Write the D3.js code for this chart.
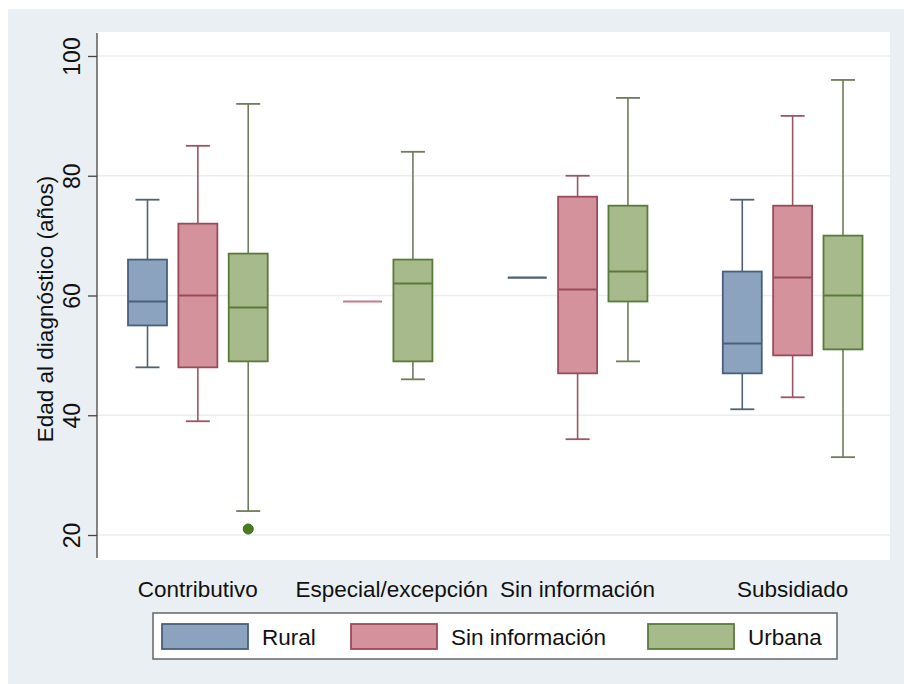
<!DOCTYPE html>
<html>
<head>
<meta charset="utf-8">
<script src="https://cdn.jsdelivr.net/npm/d3@7"></script>
<style>
  body { margin: 0; background: #fff; }
  svg text { font-family: "Liberation Sans", Arial, Helvetica, sans-serif; fill: #111; }
</style>
</head>
<body>
<div id="chart"></div>
<script>
// Categories and series
const groups = ["Contributivo", "Especial/excepción", "Sin información", "Subsidiado"];
const seriesNames = ["Rural", "Sin información", "Urbana"];

// Five-number summaries per group: [lower whisker, q1, median, q3, upper whisker]
const rural = [
  [48, 55, 59, 66, 76],
  null,
  [63, 63, 63, 63, 63],
  [41, 47, 52, 64, 76]
];
const sinInfo = [
  [39, 48, 60, 72, 85],
  [59, 59, 59, 59, 59],
  [36, 47, 61, 76.5, 80],
  [43, 50, 63, 75, 90]
];
const urbana = [
  [24, 49, 58, 67, 92],
  [46, 49, 62, 66, 84],
  [49, 59, 64, 75, 93],
  [33, 51, 60, 70, 96]
];
// outside values: [group index, value]
const urbanaOutliers = [[0, 21]];

const yTicks = [20, 40, 60, 80, 100];

const seriesData = [rural, sinInfo, urbana];
const fills = ["#8ca3bf", "#d3929c", "#a7ba8b"];
const strokes = ["#48607d", "#9a4b5b", "#5a7a3a"];
const whiskerCols = ["#4f6275", "#9c5564", "#6e7d5c"];

const W = 904, H = 684;
const plot = { left: 97, right: 890, top: 32, bottom: 560 };

const svg = d3.select("#chart").append("svg")
    .attr("width", W)
    .attr("height", H);

// outer background
svg.append("rect")
    .attr("x", 8).attr("y", 9)
    .attr("width", W - 8).attr("height", H - 9)
    .attr("fill", "#eaeff3");

// plot region
svg.append("rect")
    .attr("x", plot.left).attr("y", plot.top)
    .attr("width", plot.right - plot.left).attr("height", plot.bottom - plot.top)
    .attr("fill", "#ffffff");

// y scale
const yScale = d3.scaleLinear().domain([20, 100]).range([535, 56]);

// slot positions: one slot per present box, extra gap between groups
const groupGap = 2.27;
const boxes = [];
const groupSlots = [];
let slot = 0;
groups.forEach((g, gi) => {
    const slotsHere = [];
    seriesData.forEach((s, si) => {
        if (s[gi]) {
            boxes.push({ group: gi, series: si, v: s[gi], slot: slot });
            slotsHere.push(slot);
            slot += 1;
        }
    });
    groupSlots.push(d3.mean(slotsHere));
    slot += groupGap - 1;
});
const lastSlot = d3.max(boxes, d => d.slot);
const xScale = d3.scaleLinear().domain([0, lastSlot]).range([147.5, 843]);

// gridlines
svg.append("g").selectAll("line")
    .data(yTicks)
    .enter().append("line")
    .attr("x1", plot.left).attr("x2", plot.right)
    .attr("y1", d => yScale(d)).attr("y2", d => yScale(d))
    .attr("stroke", "#e9eef2")
    .attr("stroke-width", 1.5);

// y axis
const yAxis = d3.axisLeft(yScale).tickValues(yTicks).tickSize(9).tickPadding(0).tickFormat(d3.format("d"));
const yAxisG = svg.append("g")
    .attr("transform", `translate(${plot.left},0)`)
    .call(yAxis);
yAxisG.select(".domain").attr("d", `M0,${plot.top + 1}V${plot.bottom - 2}`).attr("stroke", "#444").attr("stroke-width", 1.3);
yAxisG.selectAll(".tick line").attr("stroke", "#444").attr("stroke-width", 1.3);
yAxisG.selectAll(".tick text")
    .attr("transform", "rotate(-90)")
    .attr("x", 0)
    .attr("y", -17)
    .attr("dy", 0)
    .attr("text-anchor", "middle")
    .style("font-size", "23px")
    .style("font-family", "Liberation Sans, Arial, sans-serif")
    .attr("fill", "#111");

// y axis title
svg.append("text")
    .attr("transform", "rotate(-90)")
    .attr("x", -309)
    .attr("y", 53)
    .attr("text-anchor", "middle")
    .style("font-size", "22.5px")
    .text("Edad al diagnóstico (años)");

// boxes
const boxW = 39, capW = 24;
const bx = svg.append("g");
boxes.forEach(b => {
    const x = xScale(b.slot);
    const [lw, q1, med, q3, uw] = b.v;
    const g = bx.append("g");
    if (q1 === q3) {
        // single observation: just a line
        g.append("line")
            .attr("x1", x - boxW / 2).attr("x2", x + boxW / 2)
            .attr("y1", yScale(med)).attr("y2", yScale(med))
            .attr("stroke", b.series === 0 ? "#4d6070" : "#c9798a")
            .attr("stroke-width", 2.2);
        return;
    }
    // whiskers
    g.append("line")
        .attr("x1", x).attr("x2", x)
        .attr("y1", yScale(uw)).attr("y2", yScale(q3))
        .attr("stroke", whiskerCols[b.series]).attr("stroke-width", 1.6);
    g.append("line")
        .attr("x1", x).attr("x2", x)
        .attr("y1", yScale(q1)).attr("y2", yScale(lw))
        .attr("stroke", whiskerCols[b.series]).attr("stroke-width", 1.6);
    [uw, lw].forEach(v => {
        g.append("line")
            .attr("x1", x - capW / 2).attr("x2", x + capW / 2)
            .attr("y1", yScale(v)).attr("y2", yScale(v))
            .attr("stroke", whiskerCols[b.series]).attr("stroke-width", 1.8);
    });
    // box
    g.append("rect")
        .attr("x", x - boxW / 2)
        .attr("y", yScale(q3))
        .attr("width", boxW)
        .attr("height", yScale(q1) - yScale(q3))
        .attr("fill", fills[b.series])
        .attr("stroke", strokes[b.series])
        .attr("stroke-width", 1.8);
    // median
    g.append("line")
        .attr("x1", x - boxW / 2).attr("x2", x + boxW / 2)
        .attr("y1", yScale(med)).attr("y2", yScale(med))
        .attr("stroke", strokes[b.series]).attr("stroke-width", 2);
});

// outliers
urbanaOutliers.forEach(([gi, v]) => {
    const b = boxes.find(d => d.group === gi && d.series === 2);
    svg.append("circle")
        .attr("cx", xScale(b.slot))
        .attr("cy", yScale(v))
        .attr("r", 5)
        .attr("fill", "#4b7a1f")
        .attr("stroke", "#3d6818")
        .attr("stroke-width", 1);
});

// category labels
svg.append("g").selectAll("text")
    .data(groups)
    .enter().append("text")
    .attr("x", (d, i) => xScale(groupSlots[i]) + (i === 1 ? 4 : 0))
    .attr("y", 597)
    .attr("text-anchor", "middle")
    .style("font-size", "22.5px")
    .text(d => d);

// legend
const legend = svg.append("g");
legend.append("rect")
    .attr("x", 153).attr("y", 613)
    .attr("width", 684).attr("height", 46)
    .attr("fill", "#ffffff")
    .attr("stroke", "#666")
    .attr("stroke-width", 1.5);
const legendX = [162, 351, 648];
const legendItems = legend.selectAll(".legendItem")
    .data(seriesNames)
    .enter().append("g")
    .attr("class", "legendItem")
    .attr("transform", (d, i) => `translate(${legendX[i]}, 624)`);
legendItems.append("rect")
    .attr("width", 86).attr("height", 25)
    .attr("fill", (d, i) => fills[i])
    .attr("stroke", (d, i) => strokes[i])
    .attr("stroke-width", 1.8);
legendItems.append("text")
    .attr("x", 100)
    .attr("y", 21)
    .style("font-size", "22.5px")
    .text(d => d);
</script>
</body>
</html>
